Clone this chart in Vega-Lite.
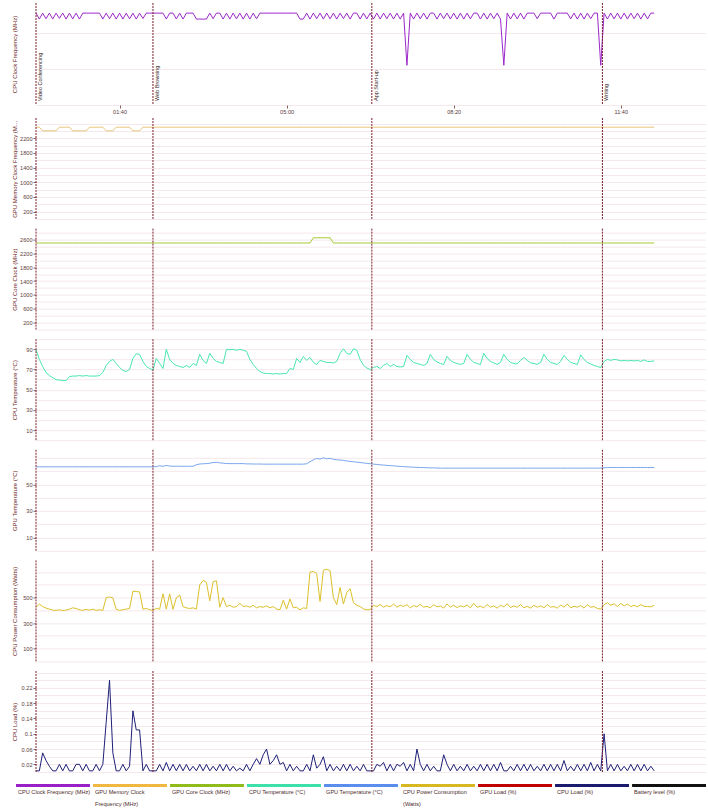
{
  "$schema": "https://vega.github.io/schema/vega-lite/v6.json",
  "padding": {"left": 10, "top": 2, "right": 0, "bottom": 0},
  "background": "white",
  "spacing": 2,
  "resolve": {"scale": {"x": "independent", "y": "independent"}},
  "datasets": {
    "events": [
      {"t": 0, "label": "Video Conferencing"},
      {"t": 140, "label": "Web Browsing"},
      {"t": 402, "label": "App Start-up"},
      {"t": 678, "label": "Writing"}
    ],
    "legend": [
      {"name": "CPU Clock Frequency (MHz)", "label": "CPU Clock Frequency (MHz)"},
      {"name": "GPU Memory Clock Frequency (MHz)", "label": "GPU Memory Clock\nFrequency (MHz)"},
      {"name": "GPU Core Clock (MHz)", "label": "GPU Core Clock (MHz)"},
      {"name": "CPU Temperature (°C)", "label": "CPU Temperature (°C)"},
      {"name": "GPU Temperature (°C)", "label": "GPU Temperature (°C)"},
      {"name": "CPU Power Consumption (Watts)", "label": "CPU Power Consumption\n(Watts)"},
      {"name": "GPU Load (%)", "label": "GPU Load (%)"},
      {"name": "CPU Load (%)", "label": "CPU Load (%)"},
      {"name": "Battery level (%)", "label": "Battery level (%)"}
    ],
    "main": [
      {"t":0,"clk":5090,"mem":2500,"core":2500,"ct":90,"gt":63.2,"pw":425,"ld":0.003},
      {"t":4,"clk":4760,"mem":2500,"core":2500,"ct":80,"gt":63.2,"pw":450,"ld":0.003},
      {"t":8,"clk":5090,"mem":2400,"core":2500,"ct":73,"gt":63.2,"pw":430,"ld":0.05},
      {"t":12,"clk":4780,"mem":2400,"core":2500,"ct":67,"gt":63.2,"pw":418,"ld":0.03},
      {"t":16,"clk":5090,"mem":2400,"core":2500,"ct":64,"gt":63.2,"pw":410,"ld":0.015},
      {"t":20,"clk":4760,"mem":2400,"core":2500,"ct":62,"gt":63.2,"pw":402,"ld":0.003},
      {"t":24,"clk":5090,"mem":2400,"core":2500,"ct":60,"gt":63.2,"pw":400,"ld":0.003},
      {"t":28,"clk":4800,"mem":2500,"core":2500,"ct":59.5,"gt":63.2,"pw":405,"ld":0.02},
      {"t":32,"clk":5090,"mem":2500,"core":2500,"ct":59,"gt":63.2,"pw":398,"ld":0.003},
      {"t":36,"clk":4760,"mem":2500,"core":2500,"ct":59,"gt":63.2,"pw":402,"ld":0.02},
      {"t":40,"clk":5090,"mem":2500,"core":2500,"ct":63,"gt":63.2,"pw":410,"ld":0.003},
      {"t":44,"clk":4770,"mem":2400,"core":2500,"ct":63.5,"gt":63.2,"pw":420,"ld":0.003},
      {"t":48,"clk":5090,"mem":2400,"core":2500,"ct":63.5,"gt":63.2,"pw":415,"ld":0.02},
      {"t":52,"clk":4760,"mem":2400,"core":2500,"ct":64,"gt":63.2,"pw":405,"ld":0.02},
      {"t":56,"clk":5090,"mem":2400,"core":2500,"ct":63.5,"gt":63.2,"pw":400,"ld":0.003},
      {"t":60,"clk":5090,"mem":2400,"core":2500,"ct":64,"gt":63.2,"pw":408,"ld":0.02},
      {"t":64,"clk":5090,"mem":2500,"core":2500,"ct":63.5,"gt":63.2,"pw":402,"ld":0.003},
      {"t":68,"clk":5090,"mem":2500,"core":2500,"ct":63.5,"gt":63.2,"pw":410,"ld":0.003},
      {"t":72,"clk":5090,"mem":2500,"core":2500,"ct":63.5,"gt":63.2,"pw":400,"ld":0.02},
      {"t":76,"clk":5090,"mem":2500,"core":2500,"ct":64,"gt":63.2,"pw":405,"ld":0.003},
      {"t":80,"clk":4760,"mem":2500,"core":2500,"ct":67,"gt":63.2,"pw":400,"ld":0.02},
      {"t":84,"clk":5090,"mem":2400,"core":2500,"ct":74,"gt":63.2,"pw":500,"ld":0.13},
      {"t":88,"clk":4780,"mem":2400,"core":2500,"ct":78,"gt":63.2,"pw":505,"ld":0.24},
      {"t":92,"clk":5090,"mem":2400,"core":2500,"ct":80,"gt":63.2,"pw":498,"ld":0.05},
      {"t":96,"clk":4760,"mem":2500,"core":2500,"ct":76,"gt":63.2,"pw":408,"ld":0.003},
      {"t":100,"clk":5090,"mem":2500,"core":2500,"ct":72,"gt":63.2,"pw":400,"ld":0.003},
      {"t":104,"clk":4760,"mem":2500,"core":2500,"ct":69,"gt":63.2,"pw":405,"ld":0.02},
      {"t":108,"clk":5090,"mem":2500,"core":2500,"ct":68,"gt":63.2,"pw":410,"ld":0.003},
      {"t":112,"clk":4770,"mem":2500,"core":2500,"ct":70,"gt":63.2,"pw":415,"ld":0.015},
      {"t":116,"clk":5090,"mem":2400,"core":2500,"ct":81,"gt":63.2,"pw":550,"ld":0.16},
      {"t":120,"clk":4760,"mem":2400,"core":2500,"ct":85.5,"gt":63.2,"pw":548,"ld":0.11},
      {"t":124,"clk":5090,"mem":2400,"core":2500,"ct":85,"gt":63.2,"pw":545,"ld":0.11},
      {"t":128,"clk":4790,"mem":2500,"core":2500,"ct":78,"gt":63.2,"pw":410,"ld":0.003},
      {"t":132,"clk":5090,"mem":2500,"core":2500,"ct":73,"gt":63.2,"pw":415,"ld":0.02},
      {"t":136,"clk":5090,"mem":2500,"core":2500,"ct":71,"gt":63.2,"pw":405,"ld":0.003},
      {"t":140,"clk":5090,"mem":2500,"core":2500,"ct":69.5,"gt":63.2,"pw":400,"ld":0.003},
      {"t":144,"clk":5090,"mem":2500,"core":2500,"ct":81,"gt":63.3,"pw":415,"ld":0.003},
      {"t":148,"clk":5090,"mem":2500,"core":2500,"ct":76,"gt":64.0,"pw":410,"ld":0.02},
      {"t":152,"clk":5090,"mem":2500,"core":2500,"ct":71,"gt":63.6,"pw":530,"ld":0.003},
      {"t":156,"clk":4760,"mem":2500,"core":2500,"ct":90,"gt":64.2,"pw":410,"ld":0.025},
      {"t":160,"clk":5090,"mem":2500,"core":2500,"ct":80,"gt":63.8,"pw":530,"ld":0.003},
      {"t":164,"clk":5090,"mem":2500,"core":2500,"ct":76,"gt":63.6,"pw":408,"ld":0.02},
      {"t":168,"clk":4770,"mem":2500,"core":2500,"ct":74,"gt":63.7,"pw":500,"ld":0.003},
      {"t":172,"clk":5090,"mem":2500,"core":2500,"ct":73,"gt":63.6,"pw":520,"ld":0.02},
      {"t":176,"clk":4760,"mem":2500,"core":2500,"ct":72,"gt":63.6,"pw":430,"ld":0.003},
      {"t":180,"clk":5090,"mem":2500,"core":2500,"ct":74,"gt":63.6,"pw":420,"ld":0.02},
      {"t":184,"clk":5090,"mem":2500,"core":2500,"ct":72,"gt":63.6,"pw":415,"ld":0.003},
      {"t":188,"clk":5090,"mem":2500,"core":2500,"ct":76,"gt":63.6,"pw":420,"ld":0.015},
      {"t":192,"clk":4760,"mem":2500,"core":2500,"ct":74,"gt":64.8,"pw":410,"ld":0.003},
      {"t":196,"clk":4760,"mem":2500,"core":2500,"ct":85,"gt":65.3,"pw":600,"ld":0.02},
      {"t":200,"clk":4760,"mem":2500,"core":2500,"ct":79,"gt":65.5,"pw":635,"ld":0.003},
      {"t":204,"clk":4760,"mem":2500,"core":2500,"ct":76,"gt":65.6,"pw":620,"ld":0.02},
      {"t":208,"clk":5090,"mem":2500,"core":2500,"ct":86,"gt":65.9,"pw":475,"ld":0.003},
      {"t":212,"clk":4780,"mem":2500,"core":2500,"ct":81,"gt":66.4,"pw":625,"ld":0.015},
      {"t":216,"clk":5090,"mem":2500,"core":2500,"ct":78,"gt":66.6,"pw":632,"ld":0.003},
      {"t":220,"clk":5090,"mem":2500,"core":2500,"ct":77,"gt":66.2,"pw":425,"ld":0.02},
      {"t":224,"clk":4760,"mem":2500,"core":2500,"ct":76,"gt":65.9,"pw":500,"ld":0.003},
      {"t":228,"clk":5090,"mem":2500,"core":2500,"ct":90,"gt":65.7,"pw":430,"ld":0.02},
      {"t":232,"clk":4760,"mem":2500,"core":2500,"ct":89.5,"gt":65.6,"pw":440,"ld":0.003},
      {"t":236,"clk":5090,"mem":2500,"core":2500,"ct":90,"gt":65.6,"pw":425,"ld":0.015},
      {"t":240,"clk":4770,"mem":2500,"core":2500,"ct":89,"gt":65.6,"pw":430,"ld":0.003},
      {"t":244,"clk":5090,"mem":2500,"core":2500,"ct":90,"gt":65.6,"pw":455,"ld":0.01},
      {"t":248,"clk":4760,"mem":2500,"core":2500,"ct":89,"gt":65.6,"pw":430,"ld":0.003},
      {"t":252,"clk":5090,"mem":2500,"core":2500,"ct":88,"gt":65.4,"pw":435,"ld":0.02},
      {"t":256,"clk":4760,"mem":2500,"core":2500,"ct":80,"gt":65.4,"pw":425,"ld":0.003},
      {"t":260,"clk":5090,"mem":2500,"core":2500,"ct":75,"gt":65.3,"pw":440,"ld":0.02},
      {"t":264,"clk":4770,"mem":2500,"core":2500,"ct":71,"gt":65.3,"pw":420,"ld":0.035},
      {"t":268,"clk":5090,"mem":2500,"core":2500,"ct":68,"gt":65.3,"pw":430,"ld":0.02},
      {"t":272,"clk":5090,"mem":2500,"core":2500,"ct":66.5,"gt":65.2,"pw":425,"ld":0.045},
      {"t":276,"clk":5090,"mem":2500,"core":2500,"ct":66,"gt":65.2,"pw":435,"ld":0.06},
      {"t":280,"clk":5090,"mem":2500,"core":2500,"ct":66,"gt":65.2,"pw":420,"ld":0.02},
      {"t":284,"clk":5090,"mem":2500,"core":2500,"ct":65.5,"gt":65.2,"pw":430,"ld":0.03},
      {"t":288,"clk":5090,"mem":2500,"core":2500,"ct":66,"gt":65.2,"pw":410,"ld":0.045},
      {"t":292,"clk":5090,"mem":2500,"core":2500,"ct":65.5,"gt":65.2,"pw":405,"ld":0.02},
      {"t":296,"clk":5090,"mem":2500,"core":2500,"ct":66,"gt":65.2,"pw":480,"ld":0.025},
      {"t":300,"clk":5090,"mem":2500,"core":2500,"ct":66,"gt":65.2,"pw":410,"ld":0.003},
      {"t":304,"clk":5090,"mem":2500,"core":2500,"ct":71,"gt":65.2,"pw":490,"ld":0.02},
      {"t":308,"clk":5090,"mem":2500,"core":2500,"ct":70,"gt":65.2,"pw":420,"ld":0.003},
      {"t":312,"clk":5090,"mem":2500,"core":2500,"ct":81,"gt":65.2,"pw":425,"ld":0.015},
      {"t":316,"clk":4760,"mem":2500,"core":2500,"ct":77,"gt":65.2,"pw":405,"ld":0.003},
      {"t":320,"clk":4760,"mem":2500,"core":2500,"ct":83,"gt":65.2,"pw":420,"ld":0.003},
      {"t":324,"clk":5090,"mem":2500,"core":2500,"ct":79,"gt":65.5,"pw":415,"ld":0.02},
      {"t":328,"clk":4760,"mem":2500,"core":2500,"ct":82,"gt":67,"pw":700,"ld":0.003},
      {"t":332,"clk":5090,"mem":2500,"core":2650,"ct":77,"gt":68.5,"pw":705,"ld":0.045},
      {"t":336,"clk":4780,"mem":2500,"core":2650,"ct":75,"gt":69.5,"pw":690,"ld":0.01},
      {"t":340,"clk":5090,"mem":2500,"core":2650,"ct":79,"gt":69,"pw":470,"ld":0.02},
      {"t":344,"clk":4760,"mem":2500,"core":2650,"ct":78,"gt":70,"pw":715,"ld":0.04},
      {"t":348,"clk":5090,"mem":2500,"core":2650,"ct":77,"gt":69.2,"pw":722,"ld":0.003},
      {"t":352,"clk":4770,"mem":2500,"core":2650,"ct":77,"gt":69.6,"pw":712,"ld":0.02},
      {"t":356,"clk":5090,"mem":2500,"core":2500,"ct":76.5,"gt":68.8,"pw":500,"ld":0.003},
      {"t":360,"clk":4760,"mem":2500,"core":2500,"ct":78,"gt":68.5,"pw":445,"ld":0.015},
      {"t":364,"clk":5090,"mem":2500,"core":2500,"ct":86,"gt":68.3,"pw":580,"ld":0.003},
      {"t":368,"clk":4790,"mem":2500,"core":2500,"ct":90.5,"gt":68.0,"pw":450,"ld":0.02},
      {"t":372,"clk":5090,"mem":2500,"core":2500,"ct":86,"gt":67.6,"pw":540,"ld":0.003},
      {"t":376,"clk":4760,"mem":2500,"core":2500,"ct":85,"gt":67.3,"pw":570,"ld":0.02},
      {"t":380,"clk":5090,"mem":2500,"core":2500,"ct":90.5,"gt":67.0,"pw":460,"ld":0.003},
      {"t":384,"clk":5090,"mem":2500,"core":2500,"ct":89,"gt":66.7,"pw":440,"ld":0.015},
      {"t":388,"clk":4760,"mem":2500,"core":2500,"ct":80,"gt":66.4,"pw":430,"ld":0.003},
      {"t":392,"clk":5090,"mem":2500,"core":2500,"ct":74,"gt":66.1,"pw":412,"ld":0.02},
      {"t":396,"clk":4770,"mem":2500,"core":2500,"ct":71.5,"gt":65.8,"pw":405,"ld":0.003},
      {"t":400,"clk":5090,"mem":2500,"core":2500,"ct":70,"gt":65.5,"pw":405,"ld":0.003},
      {"t":404,"clk":4760,"mem":2500,"core":2500,"ct":72,"gt":65.2,"pw":440,"ld":0.003},
      {"t":408,"clk":5090,"mem":2500,"core":2500,"ct":73,"gt":65.0,"pw":430,"ld":0.02},
      {"t":412,"clk":4760,"mem":2500,"core":2500,"ct":71,"gt":64.7,"pw":445,"ld":0.015},
      {"t":416,"clk":5090,"mem":2500,"core":2500,"ct":74,"gt":64.5,"pw":425,"ld":0.025},
      {"t":420,"clk":4780,"mem":2500,"core":2500,"ct":76,"gt":64.3,"pw":438,"ld":0.003},
      {"t":424,"clk":5090,"mem":2500,"core":2500,"ct":73,"gt":64.1,"pw":428,"ld":0.02},
      {"t":428,"clk":4760,"mem":2500,"core":2500,"ct":75,"gt":63.9,"pw":450,"ld":0.003},
      {"t":432,"clk":5090,"mem":2500,"core":2500,"ct":73,"gt":63.7,"pw":425,"ld":0.02},
      {"t":436,"clk":4760,"mem":2500,"core":2500,"ct":72.5,"gt":63.5,"pw":440,"ld":0.015},
      {"t":440,"clk":5090,"mem":2500,"core":2500,"ct":73,"gt":63.3,"pw":430,"ld":0.025},
      {"t":444,"clk":2200,"mem":2500,"core":2500,"ct":84,"gt":63.2,"pw":445,"ld":0.003},
      {"t":448,"clk":5090,"mem":2500,"core":2500,"ct":80,"gt":63.0,"pw":420,"ld":0.02},
      {"t":452,"clk":4760,"mem":2500,"core":2500,"ct":77,"gt":62.9,"pw":438,"ld":0.003},
      {"t":456,"clk":5090,"mem":2500,"core":2500,"ct":76,"gt":62.8,"pw":428,"ld":0.06},
      {"t":460,"clk":4770,"mem":2500,"core":2500,"ct":75,"gt":62.7,"pw":448,"ld":0.02},
      {"t":464,"clk":5090,"mem":2500,"core":2500,"ct":74,"gt":62.6,"pw":425,"ld":0.003},
      {"t":468,"clk":4760,"mem":2500,"core":2500,"ct":76,"gt":62.5,"pw":432,"ld":0.02},
      {"t":472,"clk":5090,"mem":2500,"core":2500,"ct":85,"gt":62.4,"pw":420,"ld":0.003},
      {"t":476,"clk":5090,"mem":2500,"core":2500,"ct":80,"gt":62.4,"pw":445,"ld":0.015},
      {"t":480,"clk":4760,"mem":2500,"core":2500,"ct":77.5,"gt":62.3,"pw":428,"ld":0.003},
      {"t":484,"clk":5090,"mem":2500,"core":2500,"ct":76,"gt":62.2,"pw":435,"ld":0.003},
      {"t":488,"clk":4780,"mem":2500,"core":2500,"ct":75,"gt":62.2,"pw":418,"ld":0.045},
      {"t":492,"clk":5090,"mem":2500,"core":2500,"ct":83,"gt":62.2,"pw":450,"ld":0.02},
      {"t":496,"clk":4760,"mem":2500,"core":2500,"ct":79,"gt":62.2,"pw":425,"ld":0.003},
      {"t":500,"clk":5090,"mem":2500,"core":2500,"ct":77,"gt":62.2,"pw":440,"ld":0.02},
      {"t":504,"clk":4760,"mem":2500,"core":2500,"ct":76,"gt":62.2,"pw":422,"ld":0.003},
      {"t":508,"clk":5090,"mem":2500,"core":2500,"ct":75,"gt":62.2,"pw":436,"ld":0.015},
      {"t":512,"clk":4760,"mem":2500,"core":2500,"ct":76,"gt":62.2,"pw":428,"ld":0.003},
      {"t":516,"clk":5090,"mem":2500,"core":2500,"ct":85,"gt":62.2,"pw":442,"ld":0.02},
      {"t":520,"clk":4770,"mem":2500,"core":2500,"ct":80,"gt":62.2,"pw":420,"ld":0.003},
      {"t":524,"clk":5090,"mem":2500,"core":2500,"ct":77,"gt":62.2,"pw":455,"ld":0.015},
      {"t":528,"clk":5090,"mem":2500,"core":2500,"ct":76,"gt":62.2,"pw":425,"ld":0.003},
      {"t":532,"clk":4760,"mem":2500,"core":2500,"ct":75,"gt":62.2,"pw":432,"ld":0.02},
      {"t":536,"clk":5090,"mem":2500,"core":2500,"ct":86,"gt":62.2,"pw":420,"ld":0.003},
      {"t":540,"clk":4760,"mem":2500,"core":2500,"ct":81,"gt":62.2,"pw":446,"ld":0.02},
      {"t":544,"clk":5090,"mem":2500,"core":2500,"ct":78,"gt":62.2,"pw":425,"ld":0.003},
      {"t":548,"clk":4780,"mem":2500,"core":2500,"ct":76.5,"gt":62.2,"pw":435,"ld":0.02},
      {"t":552,"clk":5090,"mem":2500,"core":2500,"ct":75,"gt":62.2,"pw":418,"ld":0.003},
      {"t":556,"clk":4760,"mem":2500,"core":2500,"ct":77,"gt":62.2,"pw":440,"ld":0.025},
      {"t":560,"clk":2200,"mem":2500,"core":2500,"ct":85,"gt":62.2,"pw":428,"ld":0.003},
      {"t":564,"clk":5090,"mem":2500,"core":2500,"ct":80,"gt":62.2,"pw":452,"ld":0.003},
      {"t":568,"clk":4760,"mem":2500,"core":2500,"ct":77,"gt":62.2,"pw":422,"ld":0.015},
      {"t":572,"clk":5090,"mem":2500,"core":2500,"ct":76,"gt":62.2,"pw":435,"ld":0.003},
      {"t":576,"clk":4770,"mem":2500,"core":2500,"ct":75.5,"gt":62.2,"pw":425,"ld":0.02},
      {"t":580,"clk":5090,"mem":2500,"core":2500,"ct":79,"gt":62.2,"pw":445,"ld":0.003},
      {"t":584,"clk":4760,"mem":2500,"core":2500,"ct":82,"gt":62.2,"pw":420,"ld":0.02},
      {"t":588,"clk":5090,"mem":2500,"core":2500,"ct":79,"gt":62.2,"pw":432,"ld":0.003},
      {"t":592,"clk":5090,"mem":2500,"core":2500,"ct":76.5,"gt":62.2,"pw":418,"ld":0.02},
      {"t":596,"clk":5090,"mem":2500,"core":2500,"ct":76,"gt":62.2,"pw":440,"ld":0.003},
      {"t":600,"clk":4780,"mem":2500,"core":2500,"ct":75,"gt":62.2,"pw":425,"ld":0.015},
      {"t":604,"clk":5090,"mem":2500,"core":2500,"ct":77,"gt":62.2,"pw":436,"ld":0.003},
      {"t":608,"clk":5090,"mem":2500,"core":2500,"ct":85,"gt":62.2,"pw":420,"ld":0.02},
      {"t":612,"clk":5090,"mem":2500,"core":2500,"ct":80,"gt":62.2,"pw":445,"ld":0.003},
      {"t":616,"clk":5090,"mem":2500,"core":2500,"ct":77,"gt":62.2,"pw":425,"ld":0.02},
      {"t":620,"clk":4760,"mem":2500,"core":2500,"ct":76,"gt":62.2,"pw":430,"ld":0.003},
      {"t":624,"clk":5090,"mem":2500,"core":2500,"ct":75,"gt":62.2,"pw":418,"ld":0.02},
      {"t":628,"clk":5090,"mem":2500,"core":2500,"ct":78,"gt":62.2,"pw":442,"ld":0.003},
      {"t":632,"clk":5090,"mem":2500,"core":2500,"ct":84,"gt":62.2,"pw":425,"ld":0.03},
      {"t":636,"clk":5090,"mem":2500,"core":2500,"ct":80,"gt":62.2,"pw":450,"ld":0.003},
      {"t":640,"clk":4770,"mem":2500,"core":2500,"ct":77,"gt":62.2,"pw":420,"ld":0.015},
      {"t":644,"clk":5090,"mem":2500,"core":2500,"ct":76,"gt":62.2,"pw":432,"ld":0.003},
      {"t":648,"clk":4760,"mem":2500,"core":2500,"ct":75,"gt":62.2,"pw":425,"ld":0.02},
      {"t":652,"clk":5090,"mem":2500,"core":2500,"ct":84.5,"gt":62.2,"pw":438,"ld":0.003},
      {"t":656,"clk":4760,"mem":2500,"core":2500,"ct":80,"gt":62.2,"pw":418,"ld":0.02},
      {"t":660,"clk":5090,"mem":2500,"core":2500,"ct":77,"gt":62.2,"pw":445,"ld":0.003},
      {"t":664,"clk":4780,"mem":2500,"core":2500,"ct":75.5,"gt":62.2,"pw":425,"ld":0.025},
      {"t":668,"clk":5090,"mem":2500,"core":2500,"ct":74,"gt":62.2,"pw":430,"ld":0.003},
      {"t":672,"clk":5090,"mem":2500,"core":2500,"ct":73,"gt":62.2,"pw":415,"ld":0.02},
      {"t":676,"clk":2200,"mem":2500,"core":2500,"ct":72,"gt":62.2,"pw":410,"ld":0.003},
      {"t":680,"clk":5090,"mem":2500,"core":2500,"ct":78,"gt":62.5,"pw":445,"ld":0.1},
      {"t":684,"clk":4760,"mem":2500,"core":2500,"ct":80,"gt":62.6,"pw":460,"ld":0.003},
      {"t":688,"clk":5090,"mem":2500,"core":2500,"ct":79,"gt":62.7,"pw":440,"ld":0.02},
      {"t":692,"clk":4770,"mem":2500,"core":2500,"ct":80,"gt":62.7,"pw":452,"ld":0.003},
      {"t":696,"clk":5090,"mem":2500,"core":2500,"ct":79.5,"gt":62.7,"pw":430,"ld":0.02},
      {"t":700,"clk":4760,"mem":2500,"core":2500,"ct":78.5,"gt":62.7,"pw":455,"ld":0.003},
      {"t":704,"clk":5090,"mem":2500,"core":2500,"ct":79,"gt":62.7,"pw":435,"ld":0.015},
      {"t":708,"clk":4760,"mem":2500,"core":2500,"ct":78.5,"gt":62.7,"pw":450,"ld":0.003},
      {"t":712,"clk":5090,"mem":2500,"core":2500,"ct":79,"gt":62.7,"pw":430,"ld":0.02},
      {"t":716,"clk":4780,"mem":2500,"core":2500,"ct":78.5,"gt":62.7,"pw":440,"ld":0.003},
      {"t":720,"clk":5090,"mem":2500,"core":2500,"ct":79,"gt":62.7,"pw":428,"ld":0.02},
      {"t":724,"clk":4760,"mem":2500,"core":2500,"ct":78,"gt":62.7,"pw":445,"ld":0.003},
      {"t":728,"clk":5090,"mem":2500,"core":2500,"ct":79.5,"gt":62.7,"pw":432,"ld":0.02},
      {"t":732,"clk":4770,"mem":2500,"core":2500,"ct":78,"gt":62.7,"pw":430,"ld":0.003},
      {"t":736,"clk":5090,"mem":2500,"core":2500,"ct":78,"gt":62.7,"pw":428,"ld":0.015},
      {"t":740,"clk":5090,"mem":2500,"core":2500,"ct":78.5,"gt":62.7,"pw":440,"ld":0.003}
    ]
  },
  "vconcat": [
    {
      "width": 670, "height": 102,
      "encoding": {"x": {"field": "t", "type": "quantitative", "scale": {"domain": [0, 802], "nice": false, "zero": false},
        "axis": {"values": [100, 300, 500, 700], "labelExpr": "utcFormat(datum.value * 1000, '%M:%S')", "grid": false, "title": null, "domain": false, "ticks": true, "tickSize": 3, "labelPadding": 1, "labelFlush": false}}},
      "layer": [
        {"data": {"name": "main"}, "mark": {"type": "line", "color": "#9b27c9", "strokeWidth": 1},
         "encoding": {"y": {"field": "clk", "type": "quantitative", "scale": {"domain": [0, 5650], "nice": false},
           "axis": {"title": "CPU Clock Frequency (MHz)", "values": [0, 500, 1000, 1500, 2000, 2500, 3000, 3500, 4000, 4500, 5000, 5500],
             "labelExpr": "datum.value % 1000 == 500 && datum.value < 5000 ? format(datum.value, '~g') : ''",
             "labelFontSize": {"condition": {"test": "datum.value % 1000 == 500 && datum.value < 5000", "value": 5.6}, "value": 0},
             "tickOpacity": {"condition": {"test": "datum.value % 1000 == 500 && datum.value < 5000", "value": 1}, "value": 0}}}}},
        {"data": {"name": "events"}, "mark": {"type": "rule", "color": "#7a1f2e", "strokeDash": [2, 1], "strokeWidth": 1}, "encoding": {}},
        {"data": {"name": "events"}, "mark": {"type": "text", "angle": 270, "align": "left", "baseline": "top", "dx": 4, "dy": 2, "fontSize": 5.5, "color": "#3d2a2a"},
         "encoding": {"y": {"datum": 0}, "text": {"field": "label"}}}
      ]
    },
    {
      "spacing": 7.6,
      "resolve": {"scale": {"x": "independent", "y": "independent"}},
      "vconcat": [
        {
          "width": 670, "height": 101,
          "encoding": {"x": {"field": "t", "type": "quantitative", "scale": {"domain": [0, 802], "nice": false, "zero": false}, "axis": null}},
          "layer": [
            {"data": {"name": "main"}, "mark": {"type": "line", "color": "#e8c477", "strokeWidth": 1},
             "encoding": {"y": {"field": "mem", "type": "quantitative", "scale": {"domain": [0, 2750], "nice": false},
               "axis": {"title": "GPU Memory Clock Frequency (MHz)", "values": [0, 200, 400, 600, 800, 1000, 1200, 1400, 1600, 1800, 2000, 2200, 2400, 2600],
                 "labelExpr": "datum.value % 400 == 200 && datum.value < 2400 ? format(datum.value, '~g') : ''",
                 "labelFontSize": {"condition": {"test": "datum.value % 400 == 200 && datum.value < 2400", "value": 5.6}, "value": 0},
                 "tickOpacity": {"condition": {"test": "datum.value % 400 == 200 && datum.value < 2400", "value": 1}, "value": 0}}}}},
            {"data": {"name": "events"}, "mark": {"type": "rule", "color": "#7a1f2e", "strokeDash": [2, 1], "strokeWidth": 1}, "encoding": {}}
          ]
        },
        {
          "width": 670, "height": 101,
          "encoding": {"x": {"field": "t", "type": "quantitative", "scale": {"domain": [0, 802], "nice": false, "zero": false}, "axis": null}},
          "layer": [
            {"data": {"name": "main"}, "mark": {"type": "line", "color": "#a2cb2f", "strokeWidth": 1},
             "encoding": {"y": {"field": "core", "type": "quantitative", "scale": {"domain": [0, 2915], "nice": false},
               "axis": {"title": "GPU Core Clock (MHz)", "values": [0, 200, 400, 600, 800, 1000, 1200, 1400, 1600, 1800, 2000, 2200, 2400, 2600, 2800],
                 "labelExpr": "datum.value % 400 == 200 ? format(datum.value, '~g') : ''",
                 "labelFontSize": {"condition": {"test": "datum.value % 400 == 200", "value": 5.6}, "value": 0},
                 "tickOpacity": {"condition": {"test": "datum.value % 400 == 200", "value": 1}, "value": 0}}}}},
            {"data": {"name": "events"}, "mark": {"type": "rule", "color": "#7a1f2e", "strokeDash": [2, 1], "strokeWidth": 1}, "encoding": {}}
          ]
        },
        {
          "width": 670, "height": 101,
          "encoding": {"x": {"field": "t", "type": "quantitative", "scale": {"domain": [0, 802], "nice": false, "zero": false}, "axis": null}},
          "layer": [
            {"data": {"name": "main"}, "mark": {"type": "line", "color": "#48e6b0", "strokeWidth": 1},
             "encoding": {"y": {"field": "ct", "type": "quantitative", "scale": {"domain": [0, 100], "nice": false},
               "axis": {"title": "CPU Temperature (°C)", "values": [0, 10, 20, 30, 40, 50, 60, 70, 80, 90, 100],
                 "labelExpr": "datum.value % 20 == 10 ? format(datum.value, '~g') : ''",
                 "labelFontSize": {"condition": {"test": "datum.value % 20 == 10", "value": 5.6}, "value": 0},
                 "tickOpacity": {"condition": {"test": "datum.value % 20 == 10", "value": 1}, "value": 0}}}}},
            {"data": {"name": "events"}, "mark": {"type": "rule", "color": "#7a1f2e", "strokeDash": [2, 1], "strokeWidth": 1}, "encoding": {}}
          ]
        },
        {
          "width": 670, "height": 101,
          "encoding": {"x": {"field": "t", "type": "quantitative", "scale": {"domain": [0, 802], "nice": false, "zero": false}, "axis": null}},
          "layer": [
            {"data": {"name": "main"}, "mark": {"type": "line", "color": "#7aa6ee", "strokeWidth": 1},
             "encoding": {"y": {"field": "gt", "type": "quantitative", "scale": {"domain": [0, 76], "nice": false},
               "axis": {"title": "GPU Temperature (°C)", "values": [0, 10, 20, 30, 40, 50, 60, 70],
                 "labelExpr": "datum.value % 20 == 10 && datum.value < 60 ? format(datum.value, '~g') : ''",
                 "labelFontSize": {"condition": {"test": "datum.value % 20 == 10 && datum.value < 60", "value": 5.6}, "value": 0},
                 "tickOpacity": {"condition": {"test": "datum.value % 20 == 10 && datum.value < 60", "value": 1}, "value": 0}}}}},
            {"data": {"name": "events"}, "mark": {"type": "rule", "color": "#7a1f2e", "strokeDash": [2, 1], "strokeWidth": 1}, "encoding": {}}
          ]
        },
        {
          "width": 670, "height": 101,
          "encoding": {"x": {"field": "t", "type": "quantitative", "scale": {"domain": [0, 802], "nice": false, "zero": false}, "axis": null}},
          "layer": [
            {"data": {"name": "main"}, "mark": {"type": "line", "color": "#dcc02a", "strokeWidth": 1},
             "encoding": {"y": {"field": "pw", "type": "quantitative", "scale": {"domain": [0, 792], "nice": false},
               "axis": {"title": "CPU Power Consumption (Watts)", "values": [0, 100, 200, 300, 400, 500, 600, 700],
                 "labelExpr": "datum.value % 200 == 100 && datum.value < 600 ? format(datum.value, '~g') : ''",
                 "labelFontSize": {"condition": {"test": "datum.value % 200 == 100 && datum.value < 600", "value": 5.6}, "value": 0},
                 "tickOpacity": {"condition": {"test": "datum.value % 200 == 100 && datum.value < 600", "value": 1}, "value": 0}}}}},
            {"data": {"name": "events"}, "mark": {"type": "rule", "color": "#7a1f2e", "strokeDash": [2, 1], "strokeWidth": 1}, "encoding": {}}
          ]
        },
        {
          "width": 670, "height": 101,
          "encoding": {"x": {"field": "t", "type": "quantitative", "scale": {"domain": [0, 802], "nice": false, "zero": false}, "axis": null}},
          "layer": [
            {"data": {"name": "main"}, "mark": {"type": "line", "color": "#1f1f78", "strokeWidth": 1},
             "encoding": {"y": {"field": "ld", "type": "quantitative", "scale": {"domain": [0, 0.264], "nice": false},
               "axis": {"title": "CPU Load (%)", "values": [0, 0.02, 0.04, 0.06, 0.08, 0.1, 0.12, 0.14, 0.16, 0.18, 0.2, 0.22, 0.24, 0.26],
                 "labelExpr": "round(datum.value * 100) % 4 == 2 && datum.value < 0.25 ? format(datum.value, '~g') : ''",
                 "labelFontSize": {"condition": {"test": "round(datum.value * 100) % 4 == 2 && datum.value < 0.25", "value": 5.6}, "value": 0},
                 "tickOpacity": {"condition": {"test": "round(datum.value * 100) % 4 == 2 && datum.value < 0.25", "value": 1}, "value": 0}}}}},
            {"data": {"name": "events"}, "mark": {"type": "rule", "color": "#7a1f2e", "strokeDash": [2, 1], "strokeWidth": 1}, "encoding": {}}
          ]
        },
        {
          "width": 670, "height": 30,
          "data": {"name": "legend"},
          "encoding": {
            "x": {"field": "name", "type": "nominal", "sort": null,
              "scale": {"domain": ["CPU Clock Frequency (MHz)", "GPU Memory Clock Frequency (MHz)", "GPU Core Clock (MHz)", "CPU Temperature (°C)", "GPU Temperature (°C)", "CPU Power Consumption (Watts)", "GPU Load (%)", "CPU Load (%)", "Battery level (%)"],
                "range": [-20, 670], "paddingInner": 0.04, "paddingOuter": 0}, "axis": null}
          },
          "layer": [
            {"mark": {"type": "bar"},
             "encoding": {
               "y": {"datum": 3.5, "type": "quantitative", "scale": {"domain": [0, 30], "reverse": true, "nice": false, "zero": false}, "axis": null},
               "y2": {"datum": 6.5},
               "color": {"field": "name", "type": "nominal",
                 "scale": {"domain": ["CPU Clock Frequency (MHz)", "GPU Memory Clock Frequency (MHz)", "GPU Core Clock (MHz)", "CPU Temperature (°C)", "GPU Temperature (°C)", "CPU Power Consumption (Watts)", "GPU Load (%)", "CPU Load (%)", "Battery level (%)"],
                   "range": ["#9a1fc7", "#f0b840", "#8fbc1a", "#3ee0aa", "#5b8def", "#d8b820", "#c00000", "#1a1a6e", "#111111"]}, "legend": null}}},
            {"mark": {"type": "text", "align": "left", "baseline": "top", "dx": 2, "fontSize": 5.6, "lineBreak": "\n", "lineHeight": 12, "color": "#4d2b2b"},
             "encoding": {
               "x": {"field": "name", "type": "nominal", "bandPosition": 0},
               "y": {"datum": 9, "type": "quantitative"},
               "text": {"field": "label"}}}
          ]
        }
      ]
    }
  ],
  "config": {
    "font": "Liberation Sans",
    "view": {"stroke": null},
    "axis": {
      "domain": false,
      "labelFontSize": 5.6,
      "labelColor": "#5b3d3d",
      "titleFontSize": 6,
      "titleFontWeight": "normal",
      "titleColor": "#6b2424",
      "tickSize": 3,
      "tickColor": "#8a6060",
      "gridColor": "#f4e8ec",
      "gridWidth": 1,
      "labelPadding": 1,
      "labelOverlap": false
    },
    "axisY": {"titleX": -19, "titleLimit": 100}
  }
}
